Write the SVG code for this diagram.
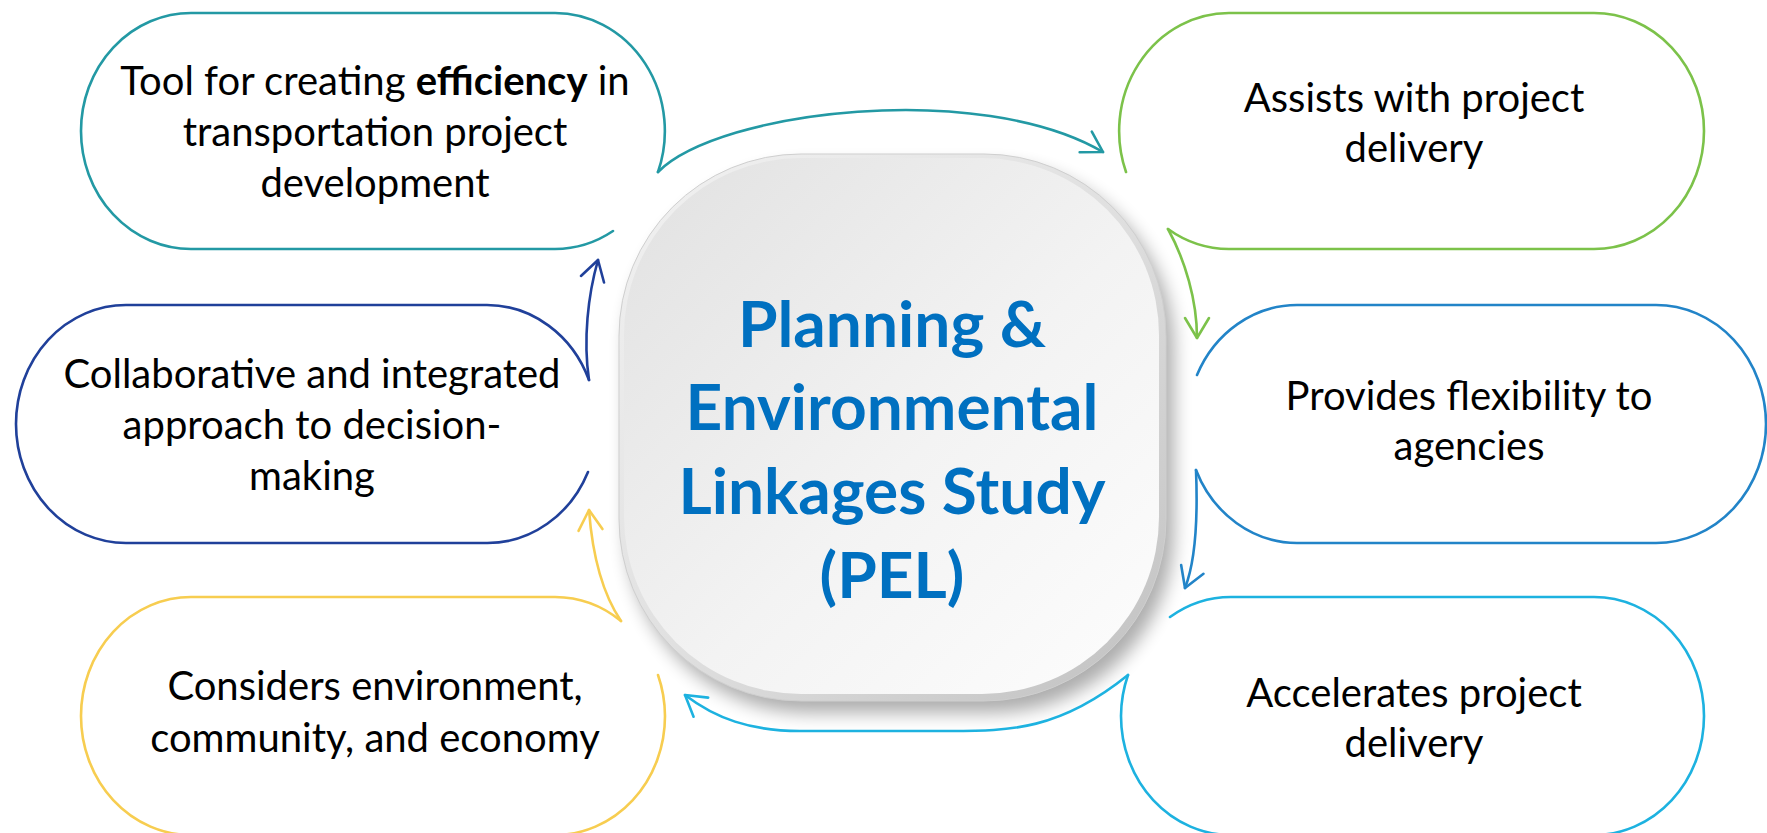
<svg xmlns="http://www.w3.org/2000/svg" width="1767" height="833" viewBox="0 0 1767 833">
<defs>
<style>
.bub{fill:none;stroke-width:2.6;stroke-linecap:round;stroke-linejoin:round}
.con{fill:none;stroke-width:2.6;stroke-linecap:round}
.txt{font-family:Lato,"Open Sans",sans-serif;font-size:40px;fill:#000;text-anchor:middle}
.ttl{font-family:Lato,"Open Sans",sans-serif;font-size:64px;font-weight:bold;fill:#0070C0;text-anchor:middle}
.teal{stroke:#2399A4}.green{stroke:#7CC24A}.blue{stroke:#2284C8}.cyan{stroke:#1DB2E0}.yellow{stroke:#F7CD50}.navy{stroke:#20409A}
</style>
<marker id="mTeal" viewBox="0 0 24 28" refX="22" refY="14" markerWidth="24" markerHeight="28" markerUnits="userSpaceOnUse" orient="auto" overflow="visible"><path d="M2,2 L22,14 L2,26" fill="none" stroke="#2399A4" stroke-width="2.6" stroke-linecap="round" stroke-linejoin="round"/></marker>
<marker id="mGreen" viewBox="0 0 24 28" refX="22" refY="14" markerWidth="24" markerHeight="28" markerUnits="userSpaceOnUse" orient="auto" overflow="visible"><path d="M2,2 L22,14 L2,26" fill="none" stroke="#7CC24A" stroke-width="2.6" stroke-linecap="round" stroke-linejoin="round"/></marker>
<marker id="mBlue" viewBox="0 0 24 28" refX="22" refY="14" markerWidth="24" markerHeight="28" markerUnits="userSpaceOnUse" orient="auto" overflow="visible"><path d="M2,2 L22,14 L2,26" fill="none" stroke="#2284C8" stroke-width="2.6" stroke-linecap="round" stroke-linejoin="round"/></marker>
<marker id="mCyan" viewBox="0 0 24 28" refX="22" refY="14" markerWidth="24" markerHeight="28" markerUnits="userSpaceOnUse" orient="auto" overflow="visible"><path d="M2,2 L22,14 L2,26" fill="none" stroke="#1DB2E0" stroke-width="2.6" stroke-linecap="round" stroke-linejoin="round"/></marker>
<marker id="mYellow" viewBox="0 0 24 28" refX="22" refY="14" markerWidth="24" markerHeight="28" markerUnits="userSpaceOnUse" orient="auto" overflow="visible"><path d="M2,2 L22,14 L2,26" fill="none" stroke="#F7CD50" stroke-width="2.6" stroke-linecap="round" stroke-linejoin="round"/></marker>
<marker id="mNavy" viewBox="0 0 24 28" refX="22" refY="14" markerWidth="24" markerHeight="28" markerUnits="userSpaceOnUse" orient="auto" overflow="visible"><path d="M2,2 L22,14 L2,26" fill="none" stroke="#20409A" stroke-width="2.6" stroke-linecap="round" stroke-linejoin="round"/></marker>
<linearGradient id="rim" x1="0" y1="0" x2="1" y2="1"><stop offset="0" stop-color="#F2F2F2"/><stop offset="0.5" stop-color="#E0E0E0"/><stop offset="1" stop-color="#C0C0C0"/></linearGradient>
<linearGradient id="face" x1="0" y1="0" x2="1" y2="1"><stop offset="0" stop-color="#E1E1E1"/><stop offset="0.55" stop-color="#F3F3F3"/><stop offset="1" stop-color="#FDFDFD"/></linearGradient>
<filter id="shadow" x="-20%" y="-20%" width="140%" height="140%"><feGaussianBlur stdDeviation="9"/></filter>
</defs>
<rect width="1767" height="833" fill="#FFFFFF"/>

<g id="node-center">
<rect x="627" y="166" width="547" height="547" rx="182" ry="182" fill="#000" opacity="0.32" filter="url(#shadow)"/>
<rect x="619" y="154" width="547" height="547" rx="182" ry="182" fill="url(#rim)" stroke="#CFCFCF" stroke-width="1"/>
<rect x="624" y="158" width="535" height="536" rx="177" ry="177" fill="url(#face)"/>
<text class="ttl" x="892" y="347">Planning &amp;</text>
<text class="ttl" x="892" y="430">Environmental</text>
<text class="ttl" x="892" y="514">Linkages Study</text>
<text class="ttl" x="892" y="598">(PEL)</text>
</g>

<g id="node-tl">
<path class="bub teal" d="M613 231 A110 118 0 0 1 555 249 L191 249 A110 118 0 0 1 81 131 A110 118 0 0 1 191 13 L555 13 A110 118 0 0 1 658 172"/>
<text class="txt" x="375" y="95">Tool for creating <tspan font-weight="bold">efficiency</tspan> in</text>
<text class="txt" x="375" y="146">transportation project</text>
<text class="txt" x="375" y="197">development</text>
</g>

<g id="node-tr">
<path class="bub green" d="M1126 172 A110 118 0 0 1 1229 13 L1594 13 A110 118 0 0 1 1704 131 A110 118 0 0 1 1594 249 L1229 249 A110 118 0 0 1 1168 229"/>
<text class="txt" x="1414" y="112">Assists with project</text>
<text class="txt" x="1414" y="162">delivery</text>
</g>

<g id="node-mr">
<path class="bub blue" d="M1197 375 A110 119 0 0 1 1297 305 L1656 305 A110 119 0 0 1 1766 424 A110 119 0 0 1 1656 543 L1297 543 A110 119 0 0 1 1196 470"/>
<text class="txt" x="1469" y="410">Provides flexibility to</text>
<text class="txt" x="1469" y="460">agencies</text>
</g>

<g id="node-br">
<path class="bub cyan" d="M1170 617 A110 119 0 0 1 1231 597 L1594 597 A110 119 0 0 1 1704 716 A110 119 0 0 1 1594 835 L1231 835 A110 119 0 0 1 1121 716 A110 119 0 0 1 1128 675"/>
<text class="txt" x="1414" y="707">Accelerates project</text>
<text class="txt" x="1414" y="757">delivery</text>
</g>

<g id="node-bl">
<path class="bub yellow" d="M658 675 A110 119 0 0 1 665 716 A110 119 0 0 1 555 835 L191 835 A110 119 0 0 1 81 716 A110 119 0 0 1 191 597 L555 597 A110 119 0 0 1 621 621"/>
<text class="txt" x="375" y="700">Considers environment,</text>
<text class="txt" x="375" y="752">community, and economy</text>
</g>

<g id="node-ml">
<path class="bub navy" d="M588 472 A110 119 0 0 1 487 543 L126 543 A110 119 0 0 1 16 424 A110 119 0 0 1 126 305 L487 305 A110 119 0 0 1 589 380"/>
<text class="txt" x="312" y="388">Collaborative and integrated</text>
<text class="txt" x="312" y="439">approach to decision-</text>
<text class="txt" x="312" y="490">making</text>
</g>

<g id="connectors">
<path class="con teal" d="M658 172 C720 110 980 80 1103 152" marker-end="url(#mTeal)"/>
<path class="con green" d="M1168 229 C1185 260 1197 300 1197 338" marker-end="url(#mGreen)"/>
<path class="con blue" d="M1196 470 C1198 520 1196 560 1185 588" marker-end="url(#mBlue)"/>
<path class="con cyan" d="M1128 675 C1060 730 1010 731 950 731 L800 731 C750 731 715 718 685 695" marker-end="url(#mCyan)"/>
<path class="con yellow" d="M621 621 C600 590 592 550 589 510" marker-end="url(#mYellow)"/>
<path class="con navy" d="M589 380 C583 340 588 295 598 260" marker-end="url(#mNavy)"/>
</g>
</svg>
